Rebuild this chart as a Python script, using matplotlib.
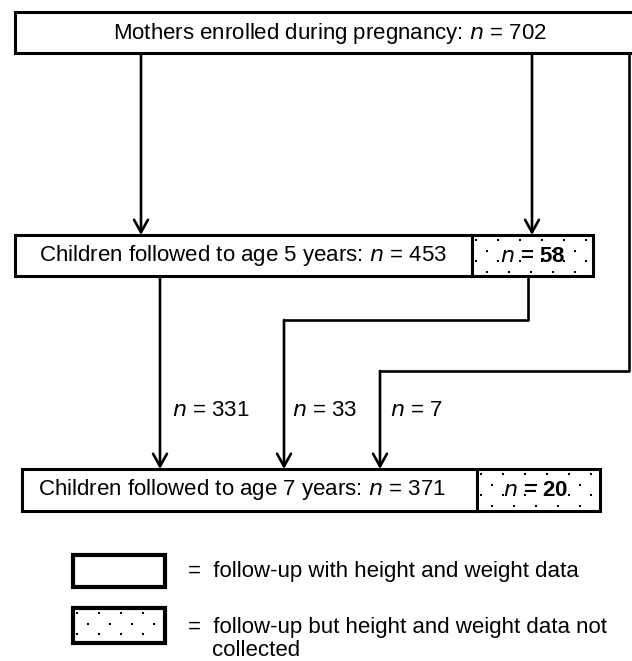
import matplotlib.pyplot as plt
import numpy as np
from matplotlib.patches import FancyArrowPatch, Rectangle

plt.rcParams["font.family"] = ["Liberation Sans", "DejaVu Sans"]

# Podaci iz dijagrama toka.
STAGE_LABELS = [
    "Mothers enrolled during pregnancy",
    "Children followed to age 5 years",
    "Children followed to age 7 years",
]
STAGE_COUNTS = [702, 453, 371]
MISSING_COUNTS = [58, 20]
FLOW_COUNTS = [331, 33, 7]
LEGEND_TEXTS = [
    "=  follow-up with height and weight data",
    "=  follow-up but height and weight data not",
    "collected",
]

FONT_SIZE = 16
BOX_LW = 2.2
LINE_LW = 1.9
ARROW_STYLE = "->,head_length=0.45,head_width=0.25"


def add_dots(axis, x0, y0, x1, y1, step_x=22, step_y=10.5):
    """Tackasta ispuna pravougaonika (stagger raspored)."""
    xs, ys = [], []
    for row, y in enumerate(np.arange(y0 + 5, y1 - 2, step_y)):
        start = x0 + 4 + (step_x / 2 if row % 2 else 0)
        for x in np.arange(start, x1 - 2, step_x):
            xs.append(x)
            ys.append(y)
    axis.scatter(xs, ys, s=4, color="black", marker="s", linewidths=0, zorder=3)


def draw_box(axis, x0, y0, x1, y1, dotted=False, lw=BOX_LW):
    axis.add_patch(
        Rectangle((x0, y0), x1 - x0, y1 - y0, facecolor="white",
                  edgecolor="black", linewidth=lw, zorder=2)
    )
    if dotted:
        add_dots(axis, x0, y0, x1, y1)


def draw_path(axis, points):
    xs = [p[0] for p in points]
    ys = [p[1] for p in points]
    axis.plot(xs[:-1], ys[:-1], color="black", linewidth=LINE_LW,
              solid_capstyle="butt", zorder=1)
    axis.add_patch(
        FancyArrowPatch(points[-2], points[-1], arrowstyle=ARROW_STYLE,
                        mutation_scale=20, color="black",
                        linewidth=LINE_LW, shrinkA=0, shrinkB=0, zorder=1)
    )


def stage_text(index):
    return f"{STAGE_LABELS[index]}: $\\it{{n}}$ = {STAGE_COUNTS[index]}"


def main():
    fig = plt.figure(figsize=(6.32, 6.61), dpi=100)
    ax = fig.add_axes([0, 0, 1, 1])
    ax.set_xlim(0, 632)
    ax.set_ylim(661, 0)
    ax.axis("off")

    # 1. Okviri
    draw_box(ax, 15, 12, 650, 53)
    draw_box(ax, 15, 235, 472, 276)
    draw_box(ax, 472, 235, 593, 276, dotted=True)
    draw_box(ax, 22, 469, 477, 511)
    draw_box(ax, 477, 469, 600, 511, dotted=True)

    ax.text(330, 33, stage_text(0), ha="center", va="center", fontsize=FONT_SIZE, zorder=4)
    ax.text(243, 256, stage_text(1), ha="center", va="center", fontsize=FONT_SIZE, zorder=4)
    ax.text(242, 490, stage_text(2), ha="center", va="center", fontsize=FONT_SIZE, zorder=4)
    ax.text(533, 256, f"$\\bf{{\\it{{n}}}}$ = {MISSING_COUNTS[0]}", ha="center",
            va="center", fontsize=FONT_SIZE, fontweight="bold", zorder=4)
    ax.text(536, 490, f"$\\bf{{\\it{{n}}}}$ = {MISSING_COUNTS[1]}", ha="center",
            va="center", fontsize=FONT_SIZE, fontweight="bold", zorder=4)

    # 2. Strelice
    draw_path(ax, [(141, 53), (141, 235)])
    draw_path(ax, [(532, 53), (532, 235)])
    draw_path(ax, [(160, 276), (160, 469)])
    draw_path(ax, [(528, 276), (528, 320), (284, 320), (284, 469)])
    draw_path(ax, [(629, 53), (629, 371), (380, 371), (380, 469)])

    for x, count in zip([172, 292, 390], FLOW_COUNTS):
        ax.text(x, 410, f"$\\it{{n}}$ = {count}", ha="left", va="center",
                fontsize=FONT_SIZE)

    # 3. Legenda
    draw_box(ax, 73, 555, 165, 587, lw=3)
    draw_box(ax, 73, 608, 165, 643, dotted=True, lw=3)
    ax.text(188, 572, LEGEND_TEXTS[0], ha="left", va="center", fontsize=FONT_SIZE)
    ax.text(188, 627, LEGEND_TEXTS[1], ha="left", va="center", fontsize=FONT_SIZE)
    ax.text(212, 650, LEGEND_TEXTS[2], ha="left", va="center", fontsize=FONT_SIZE)

    fig.savefig("out.png", dpi=100)
    plt.close(fig)


if __name__ == "__main__":
    main()
